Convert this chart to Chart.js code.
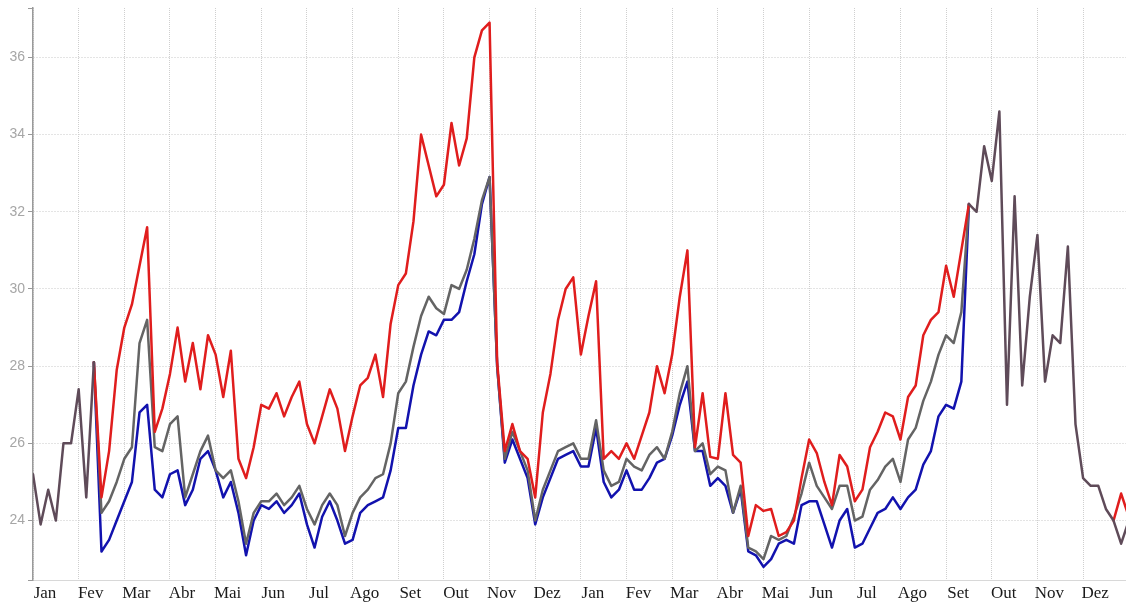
<!DOCTYPE html>
<html>
<head>
<meta charset="utf-8">
<title>Temperatura</title>
<script src="https://cdn.jsdelivr.net/npm/chart.js@4.4.1/dist/chart.umd.min.js"></script>
<style>
  html, body { margin: 0; padding: 0; background: #ffffff; }
  canvas { display: block; }
</style>
</head>
<body>
<canvas id="chart" width="1126" height="603"></canvas>
<script>
// Month labels for the two years shown on the x axis (one tick per month start)
const monthTicks = ['Jan', 'Fev', 'Mar', 'Abr', 'Mai', 'Jun', 'Jul', 'Ago', 'Set', 'Out', 'Nov', 'Dez',
                    'Jan', 'Fev', 'Mar', 'Abr', 'Mai', 'Jun', 'Jul', 'Ago', 'Set', 'Out', 'Nov', 'Dez'];

// Values are sampled six times per month; each series starts at a sample index.
const SAMPLES_PER_MONTH = 6;

// Observed values, beginning of the record
const observedHeadStart = 0;
const observedHead = [25.2, 23.9, 24.8, 24.0, 26.0, 26.0, 27.4, 24.6, 28.1];

// Three scenario series, from Feb (year 1) to Sep (year 2)
const scenarioStart = 8;
const redSeries = [
  28.1, 24.6, 25.8, 27.9, 29.0, 29.6, 30.6, 31.6, 26.3, 26.9, 27.8, 29.0,
  27.6, 28.6, 27.4, 28.8, 28.3, 27.2, 28.4, 25.6, 25.1, 25.9, 27.0, 26.9,
  27.3, 26.7, 27.2, 27.6, 26.5, 26.0, 26.7, 27.4, 26.9, 25.8, 26.7, 27.5,
  27.7, 28.3, 27.2, 29.1, 30.1, 30.4, 31.75, 34.0, 33.2, 32.4, 32.7, 34.3,
  33.2, 33.9, 36.0, 36.7, 36.9, 28.1, 25.8, 26.5, 25.8, 25.6, 24.6, 26.8,
  27.8, 29.2, 30.0, 30.3, 28.3, 29.3, 30.2, 25.6, 25.8, 25.6, 26.0, 25.6,
  26.2, 26.8, 28.0, 27.3, 28.3, 29.8, 31.0, 25.9, 27.3, 25.65, 25.6, 27.3,
  25.7, 25.5, 23.6, 24.4, 24.25, 24.3, 23.6, 23.7, 24.0, 25.1, 26.1, 25.75,
  25.0, 24.4, 25.7, 25.4, 24.5, 24.8, 25.9, 26.3, 26.8, 26.7, 26.1, 27.2,
  27.5, 28.8, 29.2, 29.4, 30.6, 29.8, 31.0, 32.2
];
const greySeries = [
  28.1, 24.2, 24.5, 25.0, 25.6, 25.9, 28.6, 29.2, 25.9, 25.8, 26.5, 26.7,
  24.6, 25.2, 25.8, 26.2, 25.3, 25.1, 25.3, 24.5, 23.4, 24.2, 24.5, 24.5,
  24.7, 24.4, 24.6, 24.9, 24.3, 23.9, 24.4, 24.7, 24.4, 23.6, 24.2, 24.6,
  24.8, 25.1, 25.2, 26.0, 27.3, 27.6, 28.5, 29.3, 29.8, 29.5, 29.35, 30.1,
  30.0, 30.5, 31.3, 32.3, 32.9, 28.0, 25.6, 26.3, 25.8, 25.3, 24.0, 24.8,
  25.3, 25.8, 25.9, 26.0, 25.6, 25.6, 26.6, 25.3, 24.9, 25.0, 25.6, 25.4,
  25.3, 25.7, 25.9, 25.6, 26.3, 27.3, 28.0, 25.8, 26.0, 25.2, 25.4, 25.3,
  24.2, 24.9, 23.3, 23.2, 23.0, 23.6, 23.5, 23.6, 24.1, 24.7, 25.5, 24.9,
  24.6, 24.3, 24.9, 24.9, 24.0, 24.1, 24.8, 25.05, 25.4, 25.6, 25.0, 26.1,
  26.4, 27.1, 27.6, 28.3, 28.8, 28.6, 29.4, 32.2
];
const blueSeries = [
  28.1, 23.2, 23.5, 24.0, 24.5, 25.0, 26.8, 27.0, 24.8, 24.6, 25.2, 25.3,
  24.4, 24.8, 25.6, 25.8, 25.3, 24.6, 25.0, 24.2, 23.1, 24.0, 24.4, 24.3,
  24.5, 24.2, 24.4, 24.7, 23.9, 23.3, 24.1, 24.5, 24.0, 23.4, 23.5, 24.2,
  24.4, 24.5, 24.6, 25.3, 26.4, 26.4, 27.5, 28.3, 28.9, 28.8, 29.2, 29.2,
  29.4, 30.2, 30.9, 32.2, 32.9, 28.0, 25.5, 26.1, 25.6, 25.1, 23.9, 24.6,
  25.1, 25.6, 25.7, 25.8, 25.4, 25.4, 26.4, 25.0, 24.6, 24.8, 25.3, 24.8,
  24.8, 25.1, 25.5, 25.6, 26.2, 27.0, 27.6, 25.8, 25.8, 24.9, 25.1, 24.9,
  24.2, 24.8, 23.2, 23.1, 22.8, 23.0, 23.4, 23.5, 23.4, 24.4, 24.5, 24.5,
  23.9, 23.3, 24.0, 24.3, 23.3, 23.4, 23.8, 24.2, 24.3, 24.6, 24.3, 24.6,
  24.8, 25.45, 25.8, 26.7, 27.0, 26.9, 27.6, 32.2
];

// Short red stretch at the very end of the record
const redTailStart = 142;
const redTail = [24.0, 24.7, 24.1];

// Observed values, end of the record
const observedTailStart = 123;
const observedTail = [
  32.2, 32.0, 33.7, 32.8, 34.6, 27.0, 32.4, 27.5, 29.8, 31.4, 27.6, 28.8,
  28.6, 31.1, 26.5, 25.1, 24.9, 24.9, 24.3, 24.0, 23.4, 24.0
];

// Axis ranges (months on x, degrees on y)
const xRange = [0, 23.94];
const yRange = [22.46, 37.28];
const yStep = 2;

function toPoints(start, values) {
  return values.map((v, i) => ({ x: (start + i) / SAMPLES_PER_MONTH, y: v }));
}

function line(label, color, start, values) {
  return {
    label,
    data: toPoints(start, values),
    borderColor: color,
    backgroundColor: color,
    borderWidth: 2.5,
    pointRadius: 0,
    pointHoverRadius: 0,
    tension: 0,
    fill: false,
    borderJoinStyle: 'round',
    borderCapStyle: 'round'
  };
}

const observedColor = '#5f4b59';
const redColor = '#e01d1d';

new Chart(document.getElementById('chart'), {
  type: 'line',
  data: {
    datasets: [
      line('Observado', observedColor, observedHeadStart, observedHead),
      line('Observado ', observedColor, observedTailStart, observedTail),
      line('Cenário alto', redColor, scenarioStart, redSeries),
      line('Cenário alto ', redColor, redTailStart, redTail),
      line('Cenário médio', '#646464', scenarioStart, greySeries),
      line('Cenário baixo', '#1212ae', scenarioStart, blueSeries)
    ]
  },
  options: {
    responsive: false,
    animation: false,
    events: [],
    layout: { padding: { top: 8, left: 0, right: 0, bottom: 0 } },
    plugins: { legend: { display: false }, tooltip: { enabled: false } },
    scales: {
      x: {
        type: 'linear',
        min: xRange[0],
        max: xRange[1],
        afterBuildTicks: (scale) => {
          scale.ticks = monthTicks.map((_, i) => ({ value: i }));
        },
        afterFit: (scale) => {
          scale.height = 23;
          scale.paddingLeft = 0;
          scale.paddingRight = 0;
        },
        ticks: {
          autoSkip: false,
          maxRotation: 0,
          minRotation: 0,
          padding: 3,
          labelOffset: 12,
          color: '#1a1a1a',
          font: { family: '"Liberation Serif", "Times New Roman", serif', size: 17 },
          callback: (value, index) => monthTicks[index]
        },
        grid: {
          color: '#cfcfcf',
          lineWidth: 1,
          drawTicks: false
        },
        border: { display: true, color: '#d8d8d8', width: 1, dash: [1, 1] }
      },
      y: {
        min: yRange[0],
        max: yRange[1],
        afterFit: (scale) => {
          scale.width = 33;
          scale.paddingTop = 0;
          scale.paddingBottom = 0;
        },
        ticks: {
          stepSize: yStep,
          includeBounds: true,
          padding: 3,
          color: '#a6a6a6',
          font: { family: '"Liberation Sans", Arial, sans-serif', size: 14 },
          callback: (value) => (Math.abs(value % yStep) < 1e-6 ? String(value) : '')
        },
        grid: {
          color: (ctx) => (ctx.tick && ctx.tick.value > 36.5 ? 'rgba(0,0,0,0)' : '#c8c8c8'),
          lineWidth: 1,
          drawTicks: true,
          tickLength: 5,
          tickColor: '#9a9a9a',
          tickBorderDash: []
        },
        border: { display: true, color: '#9a9a9a', width: 1.5, dash: [1, 2] }
      }
    }
  }
});
</script>
</body>
</html>
